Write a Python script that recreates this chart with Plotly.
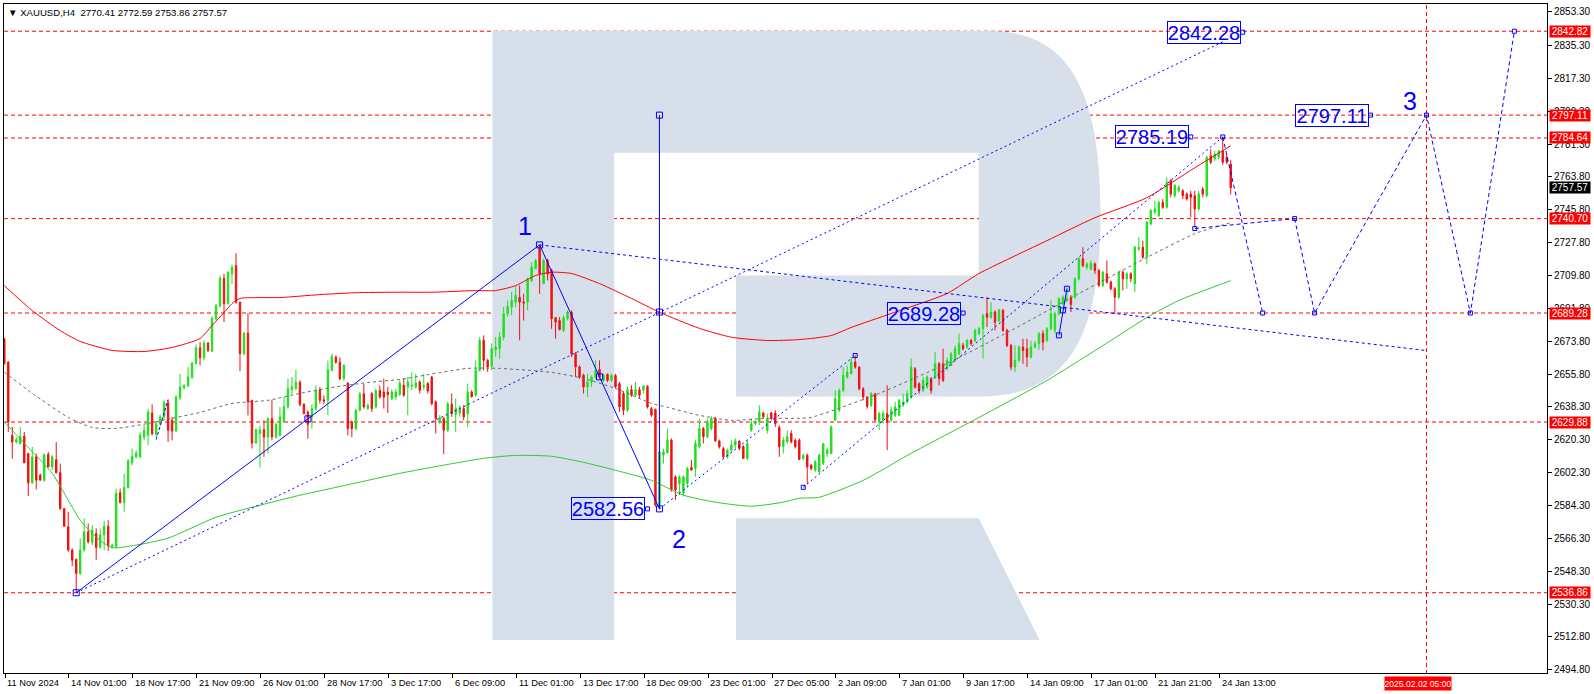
import plotly.graph_objects as go

# ------------------------------------------------------------------ data
OPEN = [
2675.2,2662.5,2622.6,2619.0,2618.1,2622.1,2612.7,2596.7,2610.9,2600.9,
2598.2,2612.3,2605.4,2609.4,2602.3,2582.8,2572.8,2560.1,2555.0,2547.4,
2560.1,2570.1,2564.1,2569.2,2561.5,2568.3,2573.1,2561.9,2561.9,2591.4,
2586.0,2594.2,2607.6,2610.9,2610.9,2621.7,2622.6,2634.8,2623.2,2629.0,
2632.6,2640.4,2630.8,2625.0,2643.1,2648.6,2649.5,2654.0,2661.6,2670.3,
2664.9,2672.9,2668.5,2686.1,2693.0,2708.2,2694.3,2710.6,2715.1,2695.2,
2667.1,2678.3,2641.7,2618.5,2623.5,2625.7,2621.7,2631.7,2621.7,2622.6,
2629.9,2638.1,2647.5,2648.0,2651.6,2639.5,2635.3,2632.6,2637.1,2647.5,
2642.0,2641.7,2658.0,2665.2,2662.5,2653.5,2651.1,2629.9,2626.3,2636.2,
2645.3,2637.2,2645.3,2638.1,2647.1,2646.2,2646.2,2642.6,2643.5,2645.0,
2649.9,2649.0,2649.4,2649.0,2651.7,2649.0,2650.8,2654.4,2640.8,2629.4,
2631.8,2625.4,2639.6,2634.1,2634.8,2637.2,2634.5,2646.3,2644.5,2658.1,
2674.4,2663.5,2660.2,2669.3,2669.8,2676.2,2688.9,2692.5,2695.2,2697.9,
2695.2,2695.2,2707.0,2713.4,2725.1,2705.2,2717.9,2712.4,2686.7,2685.2,
2679.8,2686.2,2689.8,2667.1,2659.9,2655.3,2649.0,2651.7,2654.4,2658.4,
2652.6,2655.9,2652.6,2655.3,2650.8,2645.4,2636.3,2647.5,2644.5,2647.5,
2647.2,2649.4,2637.2,2636.8,2584.1,2611.8,2613.1,2620.0,2600.0,2596.4,
2591.0,2596.4,2605.1,2604.6,2616.4,2626.3,2621.8,2626.3,2631.8,2619.6,
2615.4,2610.9,2614.5,2617.3,2619.4,2616.4,2610.0,2625.4,2629.0,2629.9,
2634.8,2625.4,2634.8,2634.8,2626.9,2616.4,2619.1,2623.6,2620.0,2620.0,
2610.0,2611.8,2606.3,2603.6,2602.7,2607.3,2612.7,2612.7,2630.8,2636.3,
2647.1,2654.4,2656.2,2662.6,2659.8,2648.0,2643.5,2639.0,2645.3,2629.9,
2630.8,2634.5,2630.8,2633.6,2633.6,2639.0,2640.8,2643.5,2658.9,2650.7,
2647.1,2648.9,2653.5,2654.4,2661.6,2661.6,2658.9,2660.7,2663.5,2667.1,
2671.6,2670.7,2674.3,2674.3,2678.0,2680.7,2688.9,2687.0,2689.8,2685.2,
2690.7,2679.8,2671.6,2659.8,2663.5,2670.7,2669.8,2665.3,2670.7,2672.5,
2678.0,2674.3,2680.7,2679.8,2688.9,2694.3,2696.1,2697.9,2697.9,2707.9,
2718.8,2714.2,2713.3,2716.0,2712.4,2704.3,2710.6,2706.1,2702.5,2697.9,
2711.5,2707.9,2710.6,2705.2,2724.2,2725.1,2719.7,2737.8,2744.2,2742.3,
2749.6,2746.9,2761.4,2753.2,2755.9,2755.9,2754.1,2754.1,2753.2,2746.0,
2756.8,2753.2,2775.0,2773.2,2774.1,2777.7,2774.1,2770.41]

HIGH = [
2675.6,2663.0,2627.2,2621.7,2627.2,2624.5,2612.7,2616.3,2612.7,2601.8,
2612.7,2613.6,2611.8,2619.0,2607.2,2582.8,2580.9,2561.0,2555.5,2566.4,
2577.3,2574.6,2573.7,2571.9,2571.9,2576.0,2576.4,2563.7,2593.6,2593.6,
2601.8,2609.6,2615.4,2614.5,2624.5,2628.1,2637.1,2639.5,2629.9,2634.0,
2642.0,2642.0,2632.6,2644.4,2656.2,2650.5,2659.8,2662.5,2672.1,2673.4,
2674.3,2673.4,2687.4,2694.3,2709.7,2710.6,2712.0,2715.6,2721.8,2695.5,
2678.8,2689.2,2642.0,2626.3,2628.1,2630.8,2632.6,2642.0,2629.5,2638.1,
2643.5,2653.5,2654.4,2658.4,2652.6,2640.2,2636.2,2639.5,2649.8,2648.9,
2644.4,2663.4,2667.1,2666.2,2665.2,2661.3,2651.6,2630.8,2637.1,2646.2,
2650.7,2640.0,2646.2,2648.0,2649.8,2653.5,2649.0,2647.5,2648.0,2652.6,
2653.5,2654.4,2657.1,2656.2,2652.6,2656.2,2651.7,2655.0,2641.7,2633.6,
2632.7,2640.8,2645.4,2642.6,2639.0,2639.0,2650.8,2647.2,2663.5,2676.2,
2677.1,2664.4,2672.6,2676.2,2678.9,2692.5,2696.1,2700.7,2703.7,2704.3,
2699.8,2708.8,2717.0,2718.8,2726.4,2718.8,2718.8,2713.4,2687.1,2687.1,
2688.0,2690.7,2690.7,2668.0,2660.8,2656.2,2656.2,2655.3,2663.5,2663.5,
2656.2,2656.2,2656.2,2656.2,2651.7,2646.3,2649.0,2649.9,2651.7,2649.0,
2649.9,2649.9,2638.1,2637.2,2625.4,2615.4,2626.3,2620.9,2600.9,2600.9,
2600.9,2605.5,2609.1,2620.0,2631.8,2627.2,2631.8,2633.0,2632.7,2620.3,
2616.4,2615.4,2620.0,2620.9,2620.0,2617.3,2620.0,2631.8,2630.9,2639.0,
2635.4,2634.5,2635.4,2636.3,2628.1,2621.8,2625.4,2625.4,2620.9,2620.9,
2612.5,2612.7,2607.0,2609.1,2612.7,2618.5,2616.0,2628.1,2647.1,2648.0,
2659.8,2660.7,2665.3,2666.2,2660.2,2648.9,2644.0,2646.2,2645.7,2635.5,
2636.0,2649.9,2638.1,2640.8,2642.6,2645.3,2647.1,2664.4,2659.8,2651.6,
2654.4,2655.3,2654.4,2668.0,2662.6,2669.8,2665.0,2668.0,2671.6,2678.0,
2673.0,2675.2,2675.2,2680.7,2681.6,2688.9,2697.9,2695.2,2690.7,2691.6,
2691.6,2680.7,2672.5,2671.6,2671.6,2675.2,2675.2,2674.3,2674.0,2678.9,
2679.8,2681.6,2696.1,2690.0,2697.9,2698.8,2703.4,2699.0,2708.8,2719.7,
2725.1,2717.0,2717.9,2716.9,2713.3,2712.4,2717.9,2707.0,2703.4,2712.4,
2712.4,2711.5,2711.5,2726.0,2730.6,2728.7,2739.6,2746.0,2750.5,2750.5,
2751.4,2763.2,2762.3,2759.6,2759.0,2756.8,2755.0,2755.9,2755.9,2755.9,
2758.0,2775.0,2778.6,2777.7,2778.0,2785.19,2776.0,2772.59]

LOW = [
2661.3,2624.5,2609.9,2618.1,2617.7,2607.6,2589.5,2596.3,2593.1,2597.8,
2597.3,2605.4,2603.6,2601.8,2581.9,2572.8,2559.2,2551.4,2536.86,2546.5,
2559.2,2563.7,2562.8,2554.6,2561.0,2560.1,2559.7,2561.0,2561.0,2585.5,
2581.0,2593.6,2606.3,2610.0,2610.5,2619.9,2617.2,2622.6,2621.7,2628.0,
2630.8,2619.0,2619.9,2624.5,2641.7,2647.5,2648.9,2653.5,2661.3,2660.7,
2663.4,2668.0,2668.0,2685.2,2692.4,2684.3,2693.9,2705.1,2694.3,2657.6,
2666.2,2633.5,2615.4,2618.1,2605.0,2610.9,2612.7,2619.9,2620.8,2622.1,
2629.4,2637.1,2645.0,2647.5,2638.4,2634.1,2620.8,2626.3,2635.9,2639.9,
2639.5,2633.5,2657.6,2661.6,2652.6,2652.2,2622.6,2621.7,2625.4,2635.9,
2637.1,2636.5,2635.3,2637.2,2642.6,2637.2,2634.8,2641.7,2642.0,2644.0,
2643.6,2633.6,2647.2,2648.1,2645.4,2647.2,2645.4,2639.0,2623.6,2629.0,
2612.4,2624.5,2632.7,2624.5,2632.7,2630.9,2627.2,2643.2,2643.6,2657.2,
2658.1,2657.2,2658.1,2665.3,2664.4,2674.4,2687.1,2688.0,2692.5,2674.4,
2685.2,2690.7,2706.1,2713.4,2699.8,2705.2,2707.0,2680.7,2675.3,2679.8,
2678.9,2685.2,2665.3,2654.4,2653.5,2645.4,2643.6,2649.0,2653.5,2653.5,
2651.7,2651.7,2651.7,2648.1,2635.4,2633.6,2635.4,2643.6,2643.6,2642.6,
2645.4,2637.2,2632.7,2583.7,2582.56,2607.3,2612.7,2591.9,2587.4,2590.1,
2589.2,2594.6,2603.3,2600.0,2615.4,2618.2,2620.9,2625.4,2619.1,2615.4,
2610.0,2610.0,2613.6,2615.4,2614.5,2610.0,2609.1,2624.5,2628.1,2628.1,
2631.8,2623.6,2630.9,2627.2,2610.9,2612.7,2618.2,2618.2,2615.4,2609.1,
2609.0,2596.4,2603.6,2602.7,2602.2,2606.3,2611.0,2612.3,2630.5,2635.4,
2646.2,2653.5,2655.9,2658.9,2647.1,2641.7,2637.2,2638.1,2629.9,2625.4,
2629.0,2614.5,2629.9,2632.6,2633.0,2638.0,2639.9,2642.6,2648.0,2645.3,
2646.2,2648.0,2645.3,2653.5,2649.9,2651.7,2658.0,2660.2,2662.6,2666.2,
2668.9,2669.8,2671.6,2673.4,2677.1,2664.4,2681.6,2686.0,2679.8,2684.3,
2678.9,2670.7,2658.0,2657.1,2662.6,2661.6,2659.8,2664.4,2670.0,2669.3,
2668.9,2673.4,2679.8,2678.0,2688.0,2693.4,2695.0,2689.8,2697.0,2707.0,
2714.2,2713.0,2712.4,2710.6,2703.4,2703.4,2705.2,2701.6,2688.9,2697.0,
2701.6,2702.5,2706.0,2700.6,2723.0,2718.8,2716.0,2737.0,2743.0,2741.4,
2746.0,2746.0,2752.3,2752.0,2755.0,2751.4,2750.5,2741.4,2736.0,2745.1,
2752.3,2752.3,2770.4,2772.0,2773.0,2770.0,2770.4,2753.86]

CLOSE = [
2661.6,2629.9,2619.0,2620.3,2622.1,2607.6,2596.7,2610.9,2598.2,2598.2,
2612.1,2605.4,2610.9,2602.3,2582.8,2573.1,2560.1,2554.6,2547.4,2560.1,
2570.1,2564.6,2571.0,2561.5,2568.3,2573.1,2562.3,2562.8,2590.9,2586.0,
2594.2,2608.7,2611.2,2613.0,2622.6,2625.4,2635.3,2623.5,2629.0,2632.6,
2640.4,2625.4,2625.0,2643.5,2648.9,2649.8,2654.4,2662.0,2670.3,2664.9,
2672.9,2668.9,2686.5,2693.3,2708.2,2694.3,2711.5,2714.2,2695.2,2667.1,
2678.3,2640.8,2618.5,2625.7,2625.7,2621.7,2631.7,2621.7,2628.6,2632.6,
2638.1,2648.0,2649.0,2651.6,2639.5,2634.4,2628.6,2637.1,2647.1,2641.7,
2641.3,2658.4,2665.6,2662.5,2653.5,2660.7,2626.3,2626.3,2636.2,2645.3,
2638.1,2639.0,2637.2,2647.1,2643.5,2643.5,2644.9,2646.2,2646.2,2651.1,
2644.5,2651.7,2649.9,2651.2,2647.2,2649.9,2646.8,2639.9,2631.8,2632.3,
2625.4,2639.9,2634.5,2637.2,2637.2,2632.7,2646.3,2643.6,2658.1,2674.4,
2663.5,2659.9,2669.8,2670.7,2676.2,2688.9,2692.9,2696.1,2698.8,2695.2,
2694.7,2707.4,2714.3,2717.9,2710.6,2717.9,2710.6,2686.2,2684.3,2680.2,
2686.7,2689.8,2667.1,2659.9,2654.4,2649.0,2651.7,2654.4,2658.1,2654.4,
2655.3,2652.6,2655.3,2649.0,2638.1,2636.3,2647.5,2644.5,2647.5,2644.5,
2649.5,2638.1,2633.6,2584.6,2613.6,2613.6,2620.0,2592.8,2592.8,2600.0,
2600.0,2604.6,2603.7,2618.2,2626.3,2621.8,2630.0,2631.8,2619.6,2616.4,
2610.9,2614.5,2617.3,2619.6,2615.4,2610.0,2618.2,2629.0,2629.9,2635.4,
2632.7,2631.8,2631.8,2629.0,2616.4,2620.0,2621.8,2619.1,2616.4,2609.5,
2611.8,2605.4,2604.5,2608.2,2611.8,2618.1,2614.5,2627.2,2642.6,2647.1,
2655.3,2657.1,2662.6,2659.8,2648.0,2643.5,2638.4,2645.3,2631.2,2634.5,
2634.5,2629.9,2636.3,2638.1,2641.7,2640.8,2645.3,2659.8,2648.9,2647.1,
2652.6,2654.4,2647.1,2661.6,2653.5,2652.6,2663.5,2667.1,2669.8,2672.5,
2669.8,2674.3,2672.5,2679.8,2680.7,2687.9,2687.0,2689.8,2684.3,2690.7,
2679.8,2671.6,2659.8,2663.5,2670.7,2668.9,2665.3,2670.7,2672.5,2678.0,
2673.4,2680.7,2688.9,2688.9,2697.0,2697.9,2697.0,2693.9,2707.9,2718.8,
2715.1,2716.0,2716.4,2712.4,2704.3,2711.5,2706.1,2702.5,2697.9,2711.5,
2707.9,2710.6,2707.9,2725.1,2725.1,2719.7,2738.7,2745.1,2746.0,2749.6,
2746.9,2760.5,2754.1,2758.7,2757.8,2753.2,2751.4,2752.3,2746.0,2754.1,
2754.1,2774.1,2771.4,2775.9,2777.7,2771.4,2771.4,2757.57]

BARS = list(range(len(OPEN)))

TIME_LABELS = ["11 Nov 2024", "14 Nov 01:00", "18 Nov 17:00", "21 Nov 09:00",
               "26 Nov 01:00", "28 Nov 17:00", "3 Dec 17:00", "6 Dec 09:00",
               "11 Dec 01:00", "13 Dec 17:00", "18 Dec 09:00", "23 Dec 01:00",
               "27 Dec 05:00", "2 Jan 09:00", "7 Jan 01:00", "9 Jan 17:00",
               "14 Jan 09:00", "17 Jan 01:00", "21 Jan 21:00", "24 Jan 13:00"]
TIME_LABEL_BARS = [16 * i for i in range(len(TIME_LABELS))]

PRICE_TICKS = [2853.30, 2835.30, 2817.30, 2799.30, 2781.30, 2763.80, 2745.80,
               2727.80, 2709.80, 2691.80, 2673.80, 2655.80, 2638.30, 2620.30,
               2602.30, 2584.30, 2566.30, 2548.30, 2530.30, 2512.80, 2494.80]

LEVELS = [2842.82, 2797.11, 2784.64, 2740.70, 2689.28, 2629.88, 2536.86]
LAST_PRICE = 2757.57
HEADER = "XAUUSD,H4  2770.41 2772.59 2753.86 2757.57"

DATE_LINE_BAR = 356
DATE_LINE_TEXT = "2025.02.02 05:00"

# moving averages (bar, price)
MA_RED_BAR = [0, 7, 14, 19, 27, 35, 42, 49, 52, 55, 57, 59, 69, 79, 89, 99, 107,
              118, 123, 128, 133, 137, 142, 149, 157, 164, 174, 182, 191, 199,
              207, 212, 222, 236, 244, 261, 273, 286, 298, 307]
MA_RED = [2704.2, 2690.6, 2679.7, 2673.8, 2668.9, 2668.3, 2670.5, 2675.4, 2682.5,
          2689.5, 2694.4, 2697.2, 2697.7, 2699.3, 2700.4, 2700.6, 2700.6, 2701.5,
          2701.5, 2704.2, 2709.7, 2711.5, 2710.8, 2705.3, 2697.2, 2689.7, 2680.9,
          2676.1, 2674.3, 2674.8, 2677.0, 2681.4, 2689.0, 2699.9, 2710.8, 2728.7,
          2741.2, 2752.1, 2768.4, 2780.4]

MA_GRAY_BAR = [0, 7, 16, 22, 28, 36, 42, 49, 57, 66, 74, 82, 91, 99, 116, 124, 137,
               145, 153, 162, 166, 174, 182, 191, 199, 202, 219, 236, 252, 269,
               286, 298, 307]
MA_GRAY = [2657.1, 2645.5, 2632.4, 2626.9, 2626.4, 2629.1, 2631.9, 2635.1, 2640.0,
           2641.7, 2645.5, 2648.7, 2651.4, 2653.1, 2659.1, 2659.1, 2656.9, 2653.6,
           2648.2, 2640.0, 2637.9, 2633.5, 2630.8, 2631.9, 2631.9, 2632.4, 2645.5,
           2661.8, 2679.7, 2699.9, 2719.5, 2732.5, 2738.5]

MA_GREEN_BAR = [0, 5, 12, 16, 19, 23, 27, 33, 41, 53, 62, 74, 82, 91, 99, 107, 120,
                128, 137, 145, 153, 162, 170, 178, 187, 195, 199, 204, 215, 227,
                244, 261, 277, 286, 294, 307]
MA_GREEN = [2629.9, 2618.3, 2601.9, 2587.3, 2576.4, 2567.1, 2561.4, 2562.8, 2566.6,
            2578.0, 2583.4, 2590.0, 2593.8, 2598.1, 2601.9, 2605.2, 2610.1, 2611.7,
            2611.2, 2607.9, 2603.6, 2598.1, 2590.0, 2586.2, 2584.0, 2586.2, 2588.3,
            2588.9, 2598.1, 2612.8, 2632.4, 2652.5, 2674.3, 2686.8, 2696.1, 2706.9]

# wave markup (bar, price)
WAVE_BAR = [18, 134, 164]
WAVE_PRICE = [2536.86, 2726.4, 2582.56]
WAVE_NAMES = ["1", "2", "3"]
MID_BAR = [76, 149, 164]
MID_PRICE = [2631.6, 2654.5, 2689.8]
RANGE_BAR = [164, 164]
RANGE_PRICE = [2582.56, 2797.11]
TARGET_LINE_BAR = [18, 305]
TARGET_LINE_PRICE = [2536.86, 2837.0]
TOP1_LINE_BAR = [134, 356]
TOP1_LINE_PRICE = [2726.4, 2668.8]
CHAN_A_BAR = [164, 213]
CHAN_A_PRICE = [2582.56, 2666.1]
CHAN_B_BAR = [200, 305]
CHAN_B_PRICE = [2594.3, 2785.19]
SMALL_BAR = [38, 41]
SMALL_PRICE = [2620.3, 2642.1]
SUB_BAR = [264, 265, 266]
SUB_PRICE = [2677.1, 2690.7, 2702.5]
FLAT_BAR = [298, 323]
FLAT_PRICE = [2735.3, 2740.70]
PROJ1_BAR = [305, 315]
PROJ1_PRICE = [2785.19, 2689.28]
PROJ2_BAR = [323, 328, 356, 367, 378]
PROJ2_PRICE = [2740.70, 2689.28, 2797.11, 2689.28, 2842.82]

BOX_VALUES = [2842.28, 2797.11, 2785.19, 2689.28, 2582.56]
BOX_ANCHOR_BAR = [310, 342, 297, 240, 161]

# ------------------------------------------------------------------ layout geometry
W, H = 1594, 694
ML, MR, MT, MB = 3, 46, 3, 21
X_RANGE = [-0.075, 386.175]
Y_RANGE = [2493.12, 2857.65]
PPB = (W - ML - MR) / (X_RANGE[1] - X_RANGE[0])
PPU = (H - MT - MB) / (Y_RANGE[1] - Y_RANGE[0])


def bx(px):
    return X_RANGE[0] + (px - ML) / PPB


def py(pyy):
    return Y_RANGE[1] - (pyy - MT) / PPU


FONT = "Liberation Sans, Arial, sans-serif"
BLUE = "#0000ff"
RED = "#ff0000"
GREEN_C = "#1ee01e"
RED_C = "#f01010"
LOGO = "#d6dfea"

fig = go.Figure()

# ------------------------------------------------------------------ logo watermark
def path(cmds):
    out = []
    for c in cmds:
        if c[0] in "ML":
            out.append(f"{c[0]} {bx(c[1])},{py(c[2])}")
        elif c[0] == "C":
            out.append(f"C {bx(c[1])},{py(c[2])} {bx(c[3])},{py(c[4])} {bx(c[5])},{py(c[6])}")
    return " ".join(out) + " Z"


shapes = []
body = path([("M", 492, 30), ("L", 990, 30),
             ("C", 1075, 30, 1101, 100, 1101, 213),
             ("C", 1101, 326, 1075, 396, 981, 396),
             ("L", 736, 396), ("L", 736, 275), ("L", 979, 275), ("L", 979, 152),
             ("L", 614, 152), ("L", 614, 640), ("L", 492, 640)])
leg = path([("M", 736, 518), ("L", 979, 518), ("L", 1040, 640), ("L", 736, 640)])
for p in (body, leg):
    shapes.append(dict(type="path", path=p, xref="x", yref="y", fillcolor=LOGO,
                       line=dict(width=0), layer="below"))

# horizontal red levels
for lv in LEVELS:
    shapes.append(dict(type="line", xref="paper", x0=0, x1=1, yref="y", y0=lv, y1=lv,
                       line=dict(color=RED, width=1, dash="4px,3px"), layer="below"))
# vertical date line
shapes.append(dict(type="line", xref="x", x0=DATE_LINE_BAR, x1=DATE_LINE_BAR,
                   yref="paper", y0=-0.012, y1=1,
                   line=dict(color=RED, width=1, dash="4px,3px"), layer="below"))

# ------------------------------------------------------------------ candles
fig.add_trace(go.Candlestick(
    x=BARS, open=OPEN, high=HIGH, low=LOW, close=CLOSE,
    increasing=dict(line=dict(color=GREEN_C, width=1), fillcolor=GREEN_C),
    decreasing=dict(line=dict(color=RED_C, width=1), fillcolor=RED_C),
    whiskerwidth=0, hoverinfo="skip", showlegend=False))

# moving averages
fig.add_trace(go.Scatter(x=MA_RED_BAR, y=MA_RED, mode="lines",
                         line=dict(color="#ff0000", width=1, shape="spline", smoothing=0.6),
                         hoverinfo="skip", showlegend=False))
fig.add_trace(go.Scatter(x=MA_GRAY_BAR, y=MA_GRAY, mode="lines",
                         line=dict(color="#6a6a6a", width=1, dash="3px,3px", shape="spline",
                                   smoothing=0.6),
                         hoverinfo="skip", showlegend=False))
fig.add_trace(go.Scatter(x=MA_GREEN_BAR, y=MA_GREEN, mode="lines",
                         line=dict(color="#32c832", width=1, shape="spline", smoothing=0.6),
                         hoverinfo="skip", showlegend=False))


def bline(xs, ys, dash="solid", width=1):
    fig.add_trace(go.Scatter(x=xs, y=ys, mode="lines",
                             line=dict(color=BLUE, width=width, dash=dash),
                             hoverinfo="skip", showlegend=False))


def bsq(xs, ys, size=5):
    fig.add_trace(go.Scatter(x=xs, y=ys, mode="markers",
                             marker=dict(symbol="square-open", size=size, color=BLUE,
                                         line=dict(width=1, color=BLUE)),
                             hoverinfo="skip", showlegend=False))


# wave structure
bline(WAVE_BAR, WAVE_PRICE)
bline(RANGE_BAR, RANGE_PRICE)
bline(TARGET_LINE_BAR, TARGET_LINE_PRICE, dash="2px,3px")
bline(TOP1_LINE_BAR, TOP1_LINE_PRICE, dash="3px,3px")
bline(CHAN_A_BAR, CHAN_A_PRICE, dash="2px,3px")
bline(CHAN_B_BAR, CHAN_B_PRICE, dash="2px,3px")
bline(SMALL_BAR, SMALL_PRICE, dash="3px,2px")
bline(SUB_BAR, SUB_PRICE)
bline(FLAT_BAR, FLAT_PRICE, dash="4px,3px")
bline(PROJ1_BAR, PROJ1_PRICE, dash="4px,3px")
bline(PROJ2_BAR, PROJ2_PRICE, dash="4px,3px")
bsq(WAVE_BAR + RANGE_BAR[1:] + MID_BAR, WAVE_PRICE + RANGE_PRICE[1:] + MID_PRICE, 6)
bsq(SUB_BAR, SUB_PRICE, 5)
bsq(PROJ1_BAR + PROJ2_BAR + CHAN_A_BAR[1:] + CHAN_B_BAR[:1] + FLAT_BAR[:1],
    PROJ1_PRICE + PROJ2_PRICE + CHAN_A_PRICE[1:] + CHAN_B_PRICE[:1] + FLAT_PRICE[:1], 4)

# ------------------------------------------------------------------ annotations
ann = []
# boxed values
for v, b in zip(BOX_VALUES, BOX_ANCHOR_BAR):
    ann.append(dict(x=b, y=v, xref="x", yref="y", xanchor="right", yanchor="middle",
                    xshift=-2, text=f"{v:.2f}", showarrow=False,
                    font=dict(family=FONT, size=20, color=BLUE),
                    bordercolor=BLUE, borderwidth=1, borderpad=0,
                    width=72, height=21))
bsq(BOX_ANCHOR_BAR, BOX_VALUES, 4)

# wave numbers
wave_pts = [(WAVE_BAR[1], WAVE_PRICE[1], -15, 19),
            (WAVE_BAR[2], WAVE_PRICE[2], 20, -30),
            (DATE_LINE_BAR, RANGE_PRICE[1], -16, 14)]
for name, (b, v, dx, dy) in zip(WAVE_NAMES, wave_pts):
    ann.append(dict(x=b, y=v, xref="x", yref="y", xshift=dx, yshift=dy, text=name,
                    showarrow=False, font=dict(family=FONT, size=25, color=BLUE)))

# right axis level labels
for lv in LEVELS:
    ann.append(dict(x=1, y=lv, xref="paper", yref="y", xanchor="left", yanchor="middle",
                    xshift=2, text=f"{lv:.2f}", showarrow=False, bgcolor=RED,
                    font=dict(family=FONT, size=10, color="white"),
                    borderpad=0, width=40, height=11))
ann.append(dict(x=1, y=LAST_PRICE, xref="paper", yref="y", xanchor="left",
                yanchor="middle", xshift=2, text=f"{LAST_PRICE:.2f}", showarrow=False,
                bgcolor="black", font=dict(family=FONT, size=10, color="white"),
                borderpad=0, width=40, height=11))

# time labels
for lab, b in zip(TIME_LABELS, TIME_LABEL_BARS):
    ann.append(dict(x=b, y=0, xref="x", yref="paper", xanchor="left", yanchor="top",
                    xshift=1, yshift=-3, text=lab, showarrow=False,
                    font=dict(family=FONT, size=9.3, color="black")))
ann.append(dict(x=DATE_LINE_BAR, y=0, xref="x", yref="paper", xanchor="center",
                yanchor="top", xshift=-8, yshift=-3, text=DATE_LINE_TEXT, showarrow=False,
                bgcolor=RED, font=dict(family=FONT, size=8.6, color="white"),
                borderpad=0, width=66, height=13))

# header
ann.append(dict(x=0, y=1, xref="paper", yref="paper", xanchor="left", yanchor="top",
                xshift=2, yshift=-1, text="\u25BC " + HEADER.replace("  ", " \u00a0"),
                showarrow=False, font=dict(family=FONT, size=9.6, color="black")))

fig.update_layout(
    width=W, height=H,
    margin=dict(l=ML, r=MR, t=MT, b=MB, pad=0),
    paper_bgcolor="white", plot_bgcolor="white",
    showlegend=False, boxgap=0.5,
    shapes=shapes, annotations=ann,
    xaxis=dict(range=X_RANGE, showgrid=False, zeroline=False,
               rangeslider=dict(visible=False),
               tickmode="array", tickvals=[b + 0.175 for b in TIME_LABEL_BARS],
               showticklabels=False, ticks="outside", ticklen=4, tickcolor="black",
               showline=True, linecolor="black", linewidth=1, mirror=True),
    yaxis=dict(range=Y_RANGE, side="right", showgrid=False, zeroline=False,
               tickmode="array", tickvals=PRICE_TICKS,
               ticktext=[f"{t:.2f}" for t in PRICE_TICKS],
               ticks="outside", ticklen=4, tickcolor="black",
               tickfont=dict(family=FONT, size=10, color="black"),
               showline=True, linecolor="black", linewidth=1, mirror=True),
)

fig.write_html("out.html",
               config={"displayModeBar": False},
               post_script="document.body.style.margin='0';"
                           "document.body.style.overflow='hidden';")
